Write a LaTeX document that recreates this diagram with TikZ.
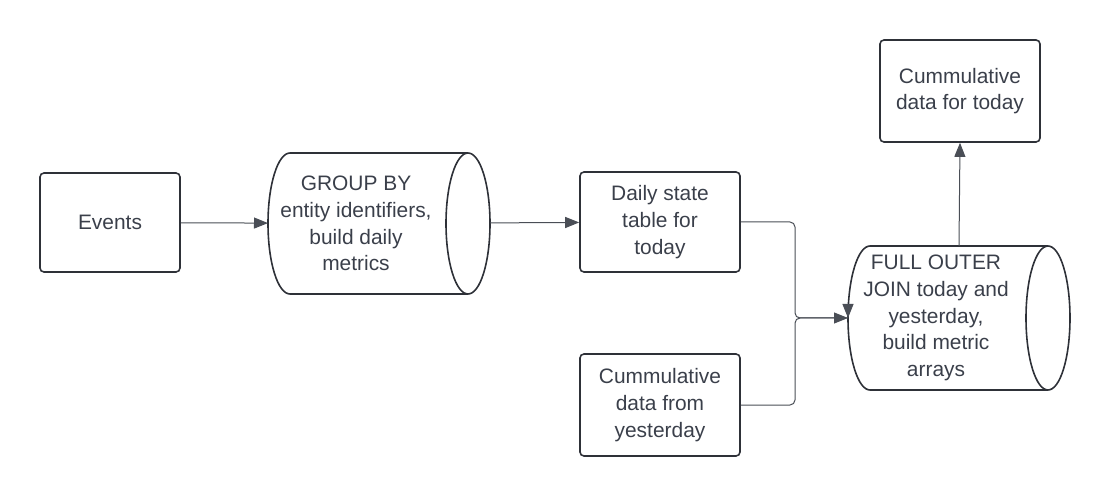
\documentclass[tikz,border=0pt]{standalone}
\usepackage{fontspec}
\setmainfont{Liberation Sans}
\usetikzlibrary{arrows.meta}
\definecolor{boxline}{HTML}{2E3138}
\definecolor{wireline}{HTML}{4A4E56}
\definecolor{txt}{HTML}{3A3F4A}
\tikzset{
  stepbox/.style={draw=boxline,line width=1.6bp,rounded corners=4bp,align=center,text=txt,
    minimum width=160bp,minimum height=100bp,inner sep=2bp,font=\fontsize{21}{26.7}\selectfont},
  drum/.style={minimum width=222bp,minimum height=141bp,inner sep=0pt,outer sep=0pt},
  drumline/.style={draw=boxline,line width=1.6bp},
  drumtext/.style={align=center,text=txt,inner sep=0pt,xshift=-23bp,font=\fontsize{21}{26.7}\selectfont},
  wire/.style={draw=wireline,line width=1bp,-{Triangle[length=14bp,width=11bp]}}
}
% outline of a lying cylinder round a node: name, half height
\newcommand{\drawdrum}[2]{%
  \draw[drumline]([xshift=-22bp]#1.north east)--([xshift=22bp]#1.north west)
    arc[start angle=90,end angle=270,x radius=22bp,y radius=#2]--([xshift=-22bp]#1.south east)
    ([xshift=-22bp]#1.east) ellipse[x radius=22bp,y radius=#2];}
\begin{document}
\begin{tikzpicture}[x=1bp,y=-1bp]
  \useasboundingbox (0,0) rectangle (1110,498);
  % steps
  \node[stepbox,minimum width=140bp,minimum height=99bp](events)at(110,222.5){Events};
  \node[drum,label={[drumtext]center:GROUP BY\\entity identifiers,\\build daily\\metrics}](group)at(379,223.5){};
  \drawdrum{group}{70.5bp}
  \node[stepbox](daily)at(660,222){Daily state\\table for\\today};
  \node[stepbox,minimum height=102bp](yday)at(660,405){Cummulative\\data from\\yesterday};
  \node[drum,minimum height=144bp,label={[drumtext]center:FULL OUTER\\JOIN today and\\yesterday,\\build metric\\arrays}](join)at(959,318){};
  \drawdrum{join}{72bp}
  \node[stepbox,minimum height=102bp](today)at(960,91){Cummulative\\data for today};
  % connectors
  \draw[wire](events)--(group);
  \draw[wire](group)--(daily);
  \draw[wire,rounded corners=5bp](daily.east)-|([xshift=-53bp]join.west)--(join.west);
  \draw[wire,rounded corners=5bp](yday.east)-|([xshift=-53bp]join.west)--(join.west)
    ([yshift=10bp]join.west)--(join.west);
  \draw[wire](join.north)--(today.south);
\end{tikzpicture}
\end{document}
